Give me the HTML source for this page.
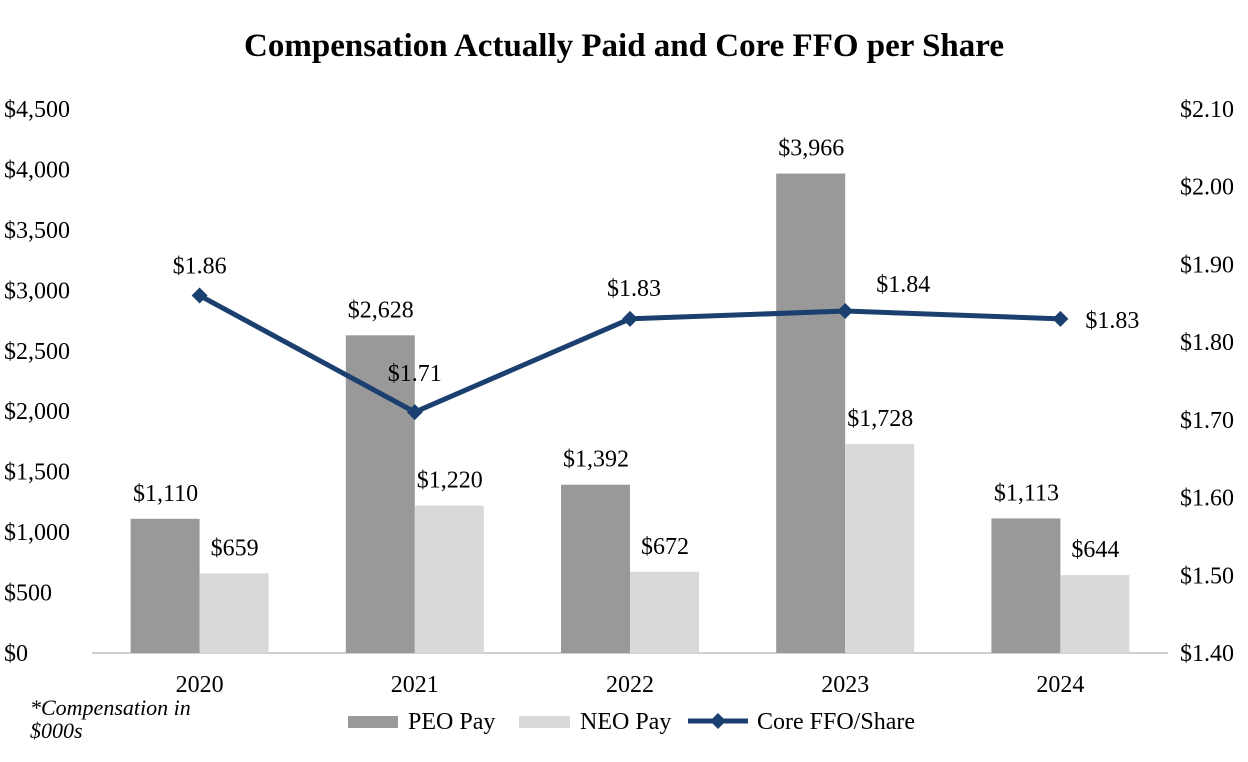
<!DOCTYPE html>
<html><head><meta charset="utf-8"><style>
body{margin:0;background:#fff}
svg{display:block;font-family:"Liberation Serif",serif}
</style></head><body>
<svg id="c" width="1248" height="762">
<text x="624" y="56" text-anchor="middle" font-size="33" font-weight="bold">Compensation Actually Paid and Core FFO per Share</text>
<g id="g"></g>
<text x="30" y="715" font-size="22" font-style="italic">*Compensation in</text>
<text x="30" y="738" font-size="22" font-style="italic">$000s</text>
<g font-size="24">
<rect x="348" y="716" width="50" height="12" fill="#999999"/>
<text x="408" y="729">PEO Pay</text>
<rect x="519" y="716" width="51" height="12" fill="#d9d9d9"/>
<text x="580" y="729">NEO Pay</text>
<line x1="688" y1="721" x2="748" y2="721" stroke="#1b3f6e" stroke-width="5"/>
<polygon points="718,713 726,721 718,729 710,721" fill="#1b3f6e"/>
<text x="757" y="729">Core FFO/Share</text>
</g>
</svg>
<script>
const categories=["2020","2021","2022","2023","2024"];
const peoPay=[1110,2628,1392,3966,1113];
const neoPay=[659,1220,672,1728,644];
const coreFfo=[1.86,1.71,1.83,1.84,1.83];
const leftTicks=[0,500,1000,1500,2000,2500,3000,3500,4000,4500];
const rightTicks=[1.40,1.50,1.60,1.70,1.80,1.90,2.00,2.10];
const NS="http://www.w3.org/2000/svg",g=document.getElementById('g');
const pTop=109,pBot=653,x0=92,x1=1168,FS=24;
const yL=v=>pBot-(v/4500)*(pBot-pTop);
const yR=v=>pBot-((v-1.4)/0.7)*(pBot-pTop);
const xC=i=>x0+(x1-x0)/categories.length*(i+0.5);
function mk(t,a,txt){const e=document.createElementNS(NS,t);for(const k in a)e.setAttribute(k,a[k]);if(txt!=null)e.textContent=txt;g.appendChild(e);return e;}
const fmt=v=>"$"+v.toLocaleString('en-US');
leftTicks.forEach(v=>{const e=mk('text',{x:4,y:yL(v)+8,'font-size':FS},fmt(v));

});
rightTicks.forEach(v=>{const e=mk('text',{x:1180,y:yR(v)+8,'font-size':FS},"$"+v.toFixed(2));

});
const ax=mk('line',{x1:x0,y1:pBot,x2:x1,y2:pBot,stroke:'#d0d0d0','stroke-width':2});


categories.forEach((c,i)=>{const cx=xC(i);
const b1=mk('rect',{x:cx-69,y:yL(peoPay[i]),width:69,height:pBot-yL(peoPay[i]),fill:'#999999'});


const b2=mk('rect',{x:cx,y:yL(neoPay[i]),width:69,height:pBot-yL(neoPay[i]),fill:'#d9d9d9'});


const l1=mk('text',{x:cx-34,y:yL(peoPay[i])-18,'text-anchor':'middle','font-size':FS},fmt(peoPay[i]));


const l2=mk('text',{x:cx+35,y:yL(neoPay[i])-18,'text-anchor':'middle','font-size':FS},fmt(neoPay[i]));


const xl=mk('text',{x:cx,y:692,'text-anchor':'middle','font-size':FS},c);

});
const pl=mk('polyline',{points:coreFfo.map((v,i)=>xC(i)+','+yR(v)).join(' '),fill:'none',stroke:'#1b3f6e','stroke-width':5,'stroke-linejoin':'round'});


const offs=[[0,-22],[0,-31],[4,-23],[58,-19],[52,9]];
coreFfo.forEach((v,i)=>{const cx=xC(i),cy=yR(v);
const d=mk('polygon',{points:`${cx},${cy-8} ${cx+8},${cy} ${cx},${cy+8} ${cx-8},${cy}`,fill:'#1b3f6e'});


const t=mk('text',{x:cx+offs[i][0],y:cy+offs[i][1],'text-anchor':'middle','font-size':FS},"$"+v.toFixed(2));

});
</script>
</body></html>
